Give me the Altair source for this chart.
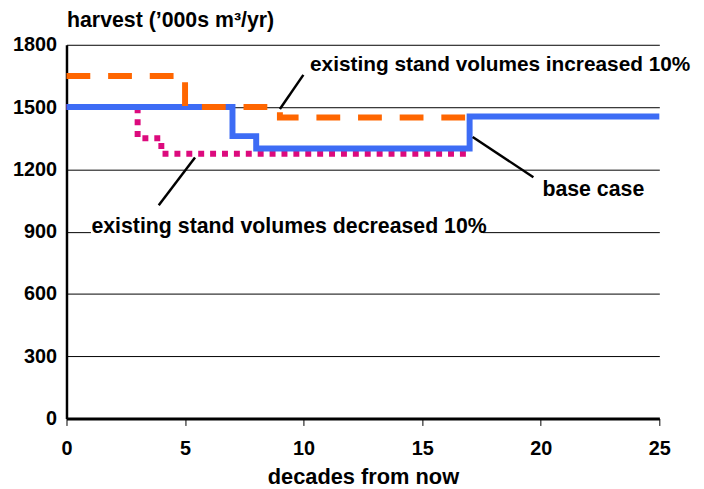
import altair as alt
import pandas as pd

# ---- data ----
base_x = [0, 7, 8, 17, 25]
base_y = [1500, 1360, 1300, 1455, 1455]
inc_x = [0, 5, 9, 17]
inc_y = [1650, 1500, 1450, 1450]
dec_x = [0, 3, 4, 17]
dec_y = [1500, 1350, 1275, 1275]

x_ticks = [0, 5, 10, 15, 20, 25]
y_ticks = [0, 300, 600, 900, 1200, 1500, 1800]

ann_text = ["existing stand volumes increased 10%", "base case",
            "existing stand volumes decreased 10%"]
ann_x = [10.27, 20.07, 1.05]
ann_y = [1672, 1074, 893]
ann_size = [21, 21.5, 21.5]

# leader lines (data coords)
lead_x1 = [9.0, 17.13, 5.42]
lead_y1 = [1491, 1356, 1257]
lead_x2 = [9.99, 19.69, 3.89]
lead_y2 = [1655, 1162, 1027]

FONT = "Liberation Sans"

base_df = pd.DataFrame({"x": base_x, "y": base_y})
inc_df = pd.DataFrame({"x": inc_x, "y": inc_y})
dec_df = pd.DataFrame({"x": dec_x, "y": dec_y})
ann_df = pd.DataFrame({"t": ann_text, "x": ann_x, "y": ann_y, "s": ann_size})
lead_df = pd.DataFrame({"x": lead_x1, "y": lead_y1, "x2": lead_x2, "y2": lead_y2})
mask_df = pd.DataFrame({"x": [1.03], "x2": [17.56], "y": [870], "y2": [960]})

xscale = alt.Scale(domain=[0, 25], nice=False, zero=False)
yscale = alt.Scale(domain=[0, 1800], nice=False)

xaxis = alt.Axis(values=x_ticks, grid=False, domainColor="black", domainWidth=3,
                 ticks=True, tickColor="black", tickWidth=1, tickSize=7,
                 labelFont=FONT, labelFontWeight="bold", labelFontSize=20,
                 labelColor="black", labelBaseline="alphabetic", labelPadding=29,
                 labelFlush=False, labelOverlap=False, format="d",
                 title="decades from now", titleFont=FONT, titleFontWeight="bold",
                 titleFontSize=22, titleColor="black", titleBaseline="alphabetic",
                 titleY=66)
yaxis = alt.Axis(values=y_ticks, grid=True, gridColor="black", gridWidth=1,
                 gridOpacity=1, domainColor="black", domainWidth=2.5, ticks=False,
                 labelFont=FONT, labelFontWeight="bold", labelFontSize=20,
                 labelColor="black", labelPadding=10, labelFlush=False,
                 labelOverlap=False, format="d",
                 title="harvest (\u2019000s m\u00b3/yr)", titleFont=FONT,
                 titleFontWeight="bold", titleFontSize=21.5, titleColor="black",
                 titleAngle=0, titleAlign="left", titleBaseline="alphabetic",
                 titleX=0, titleY=-18)

X = alt.X("x:Q", scale=xscale, axis=xaxis)
Y = alt.Y("y:Q", scale=yscale, axis=yaxis)

mask = alt.Chart(mask_df).mark_rect(color="white").encode(
    x=alt.X("x:Q", scale=xscale, axis=xaxis), x2="x2:Q",
    y=alt.Y("y:Q", scale=yscale, axis=yaxis), y2="y2:Q")

dec = alt.Chart(dec_df).mark_line(interpolate="step-after", color="#dc0a7d",
                                  strokeWidth=6, strokeDash=[6, 6],
                                  strokeCap="butt").encode(x=X, y=Y)
base = alt.Chart(base_df).mark_line(interpolate="step-after", color="#3d6cf5",
                                    strokeWidth=6).encode(x=X, y=Y)
inc = alt.Chart(inc_df).mark_line(interpolate="step-after", color="#ff6600",
                                  strokeWidth=6, strokeDash=[24, 18],
                                  strokeCap="butt").encode(x=X, y=Y)

leads = alt.Chart(lead_df).mark_rule(color="black", strokeWidth=2.5).encode(
    x=X, y=Y, x2="x2:Q", y2="y2:Q")

texts = alt.Chart(ann_df).mark_text(align="left", baseline="alphabetic",
                                    font=FONT, fontWeight="bold",
                                    color="black").encode(
    x=X, y=Y, text="t:N", size=alt.Size("s:Q", scale=None, legend=None))

chart = alt.layer(mask, dec, base, inc, leads, texts).properties(
    width=598, height=377,
    autosize=alt.AutoSizeParams(type="none"),
    padding={"left": 59, "top": 35, "right": 37, "bottom": 68},
).configure_view(stroke=None)

chart.save("out.html", embed_options={"renderer": "svg", "actions": False})
